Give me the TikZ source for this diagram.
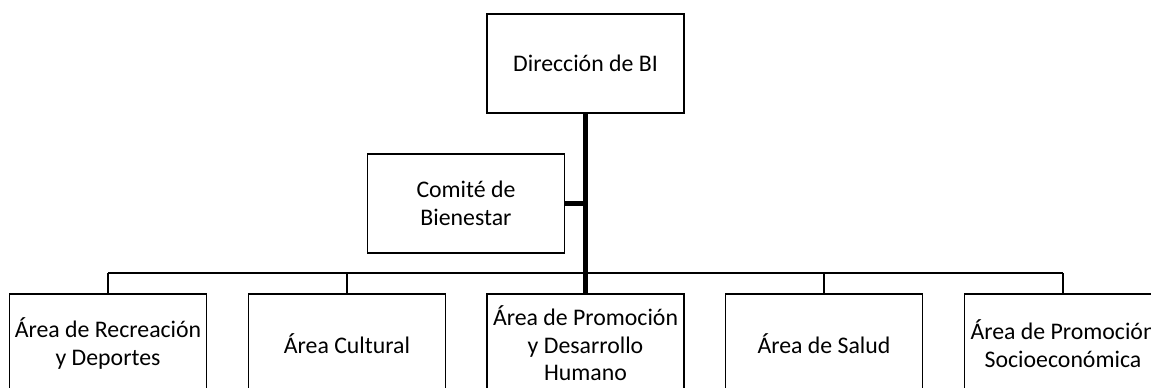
\documentclass[tikz,border=0pt]{standalone}
\usepackage{fontspec}
\setmainfont{Carlito}
\begin{document}
\begin{tikzpicture}[x=1pt,y=1pt,
  box/.style={draw=black,line width=1.7pt,minimum width=197pt,minimum height=98.5pt,
    inner sep=0pt,align=center,font=\fontsize{23.8}{27.5}\selectfont},
  thinline/.style={line width=1.8pt},
  thickline/.style={line width=5pt}]
\useasboundingbox (0,0) rectangle (1151,388);
\clip (0,0) rectangle (1151,388);
\fill[white] (0,0) rectangle (1151,388);
\node[box] (top) at (585.5,324.5) {Dirección de BI};
\node[box] (com) at (466,184.5) {Comité de\\Bienestar};
\node[box] (b1) at (108,44.5) {Área de Recreación\\y Deportes};
\node[box] (b2) at (347,44.5) {Área Cultural};
\node[box] (b3) at (585.5,44.5) {Área de Promoción\\y Desarrollo\\Humano};
\node[box] (b4) at (824,44.5) {Área de Salud};
\node[box] (b5) at (1063,44.5) {Área de Promoción\\Socioeconómica};
\coordinate (bus) at (585.5,114.7);
\draw[thinline] (b1.north |- bus) -- (b5.north |- bus);
\draw[thinline] (b1.north) -- (b1.north |- bus);
\draw[thinline] (b2.north) -- (b2.north |- bus);
\draw[thinline] (b4.north) -- (b4.north |- bus);
\draw[thinline] (b5.north) -- (b5.north |- bus);
\draw[thickline] (top.south) -- (b3.north);
\draw[thickline] (com.east) -- (com.east -| top.south);
\end{tikzpicture}
\end{document}
